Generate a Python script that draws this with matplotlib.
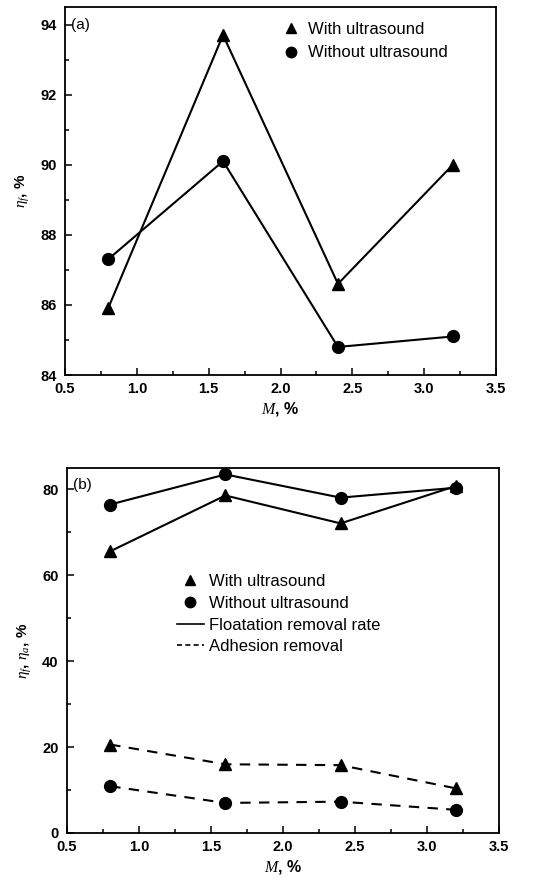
import matplotlib
matplotlib.use("Agg")
import matplotlib.pyplot as plt
from matplotlib.lines import Line2D
from matplotlib.ticker import MultipleLocator

plt.rcParams['font.family'] = ['Liberation Sans', 'DejaVu Sans']
plt.rcParams['mathtext.fontset'] = 'custom'
plt.rcParams['mathtext.it'] = 'Liberation Serif:italic'

m_vals = [0.8, 1.6, 2.4, 3.2]

# Panel (a)
a_with = [85.9, 93.7, 86.6, 90.0]
a_without = [87.3, 90.1, 84.8, 85.1]

# Panel (b)
flot_with = [65.6, 78.6, 72.1, 80.8]
flot_without = [76.5, 83.5, 78.1, 80.4]
adh_with = [20.6, 16.0, 15.8, 10.4]
adh_without = [10.9, 7.0, 7.3, 5.4]

a_yticks = [84, 86, 88, 90, 92, 94]
b_yticks = [0, 20, 40, 60, 80]
xticks = [0.5, 1.0, 1.5, 2.0, 2.5, 3.0, 3.5]

fig = plt.figure(figsize=(5.33, 8.85), dpi=100)
axa = fig.add_axes([65 / 533, 1 - 375 / 885, 431 / 533, 368 / 885])
axb = fig.add_axes([67 / 533, 1 - 833 / 885, 432 / 533, 365 / 885])

lw = 1.5
ms = 8.5
fs = 10.5
lfs = 12

def style(ax):
    for s in ax.spines.values():
        s.set_linewidth(1.3)
    ax.tick_params(direction='in', which='both', top=False, right=False,
                   labelsize=fs, width=1.1)
    ax.tick_params(which='major', length=5)
    ax.tick_params(which='minor', length=3)
    ax.tick_params(axis='y', pad=6)
    ax.tick_params(axis='x', pad=5)
    ax.xaxis.set_minor_locator(MultipleLocator(0.25))
    ax.set_xticks(xticks)
    ax.set_xticklabels([f"{v:.1f}" for v in xticks], fontweight='bold')
    ax.set_xlim(0.5, 3.5)

# (a)
axa.plot(m_vals, a_with, '-^', color='black', lw=lw, ms=ms)
axa.plot(m_vals, a_without, '-o', color='black', lw=lw, ms=ms)
style(axa)
axa.set_ylim(84, 94.5)
axa.set_yticks(a_yticks)
axa.set_yticklabels([str(v) for v in a_yticks], fontweight='bold')
axa.yaxis.set_minor_locator(MultipleLocator(1))
axa.set_xlabel(r'$M$, %', fontsize=fs + 1, fontweight='bold', labelpad=3)
axa.set_ylabel(r'$\eta_f$, %', fontsize=fs + 0.5, fontweight='bold', labelpad=6)
axa.text(0.015, 0.951, '(a)', transform=axa.transAxes, fontsize=fs + 0.5,
         va='center', ha='left')
hs_a = [Line2D([], [], marker='^', color='black', ls='none', ms=7.5),
        Line2D([], [], marker='o', color='black', ls='none', ms=7.5)]
axa.legend(hs_a, ['With ultrasound', 'Without ultrasound'], loc='upper left',
           frameon=False, fontsize=lfs, handlelength=1.0, handletextpad=0.5,
           labelspacing=0.5, bbox_to_anchor=(0.47, 1.0))

# (b)
axb.plot(m_vals, flot_with, '-^', color='black', lw=lw, ms=ms)
axb.plot(m_vals, flot_without, '-o', color='black', lw=lw, ms=ms)
axb.plot(m_vals, adh_with, '--^', color='black', lw=lw, ms=ms, dashes=(5, 4))
axb.plot(m_vals, adh_without, '--o', color='black', lw=lw, ms=ms, dashes=(5, 4))
style(axb)
axb.set_ylim(0, 85)
axb.set_yticks(b_yticks)
axb.set_yticklabels([str(v) for v in b_yticks], fontweight='bold')
axb.yaxis.set_minor_locator(MultipleLocator(10))
axb.set_xlabel(r'$M$, %', fontsize=fs + 1, fontweight='bold', labelpad=3)
axb.set_ylabel(r'$\eta_f$, $\eta_a$, %', fontsize=fs + 0.5, fontweight='bold', labelpad=6)
axb.text(0.015, 0.953, '(b)', transform=axb.transAxes, fontsize=fs + 0.5,
         va='center', ha='left')
hs_b = [Line2D([], [], marker='^', color='black', ls='none', ms=7.5),
        Line2D([], [], marker='o', color='black', ls='none', ms=7.5),
        Line2D([], [], color='black', ls='-', lw=1.2),
        Line2D([], [], color='black', ls='--', lw=1.2, dashes=(3, 2))]
axb.legend(hs_b, ['With ultrasound', 'Without ultrasound',
                  'Floatation removal rate', 'Adhesion removal'],
           loc='upper left', frameon=False, fontsize=lfs,
           handlelength=1.6, handletextpad=0.3, labelspacing=0.4,
           bbox_to_anchor=(0.22, 0.75))

fig.savefig('out.png', dpi=100)
